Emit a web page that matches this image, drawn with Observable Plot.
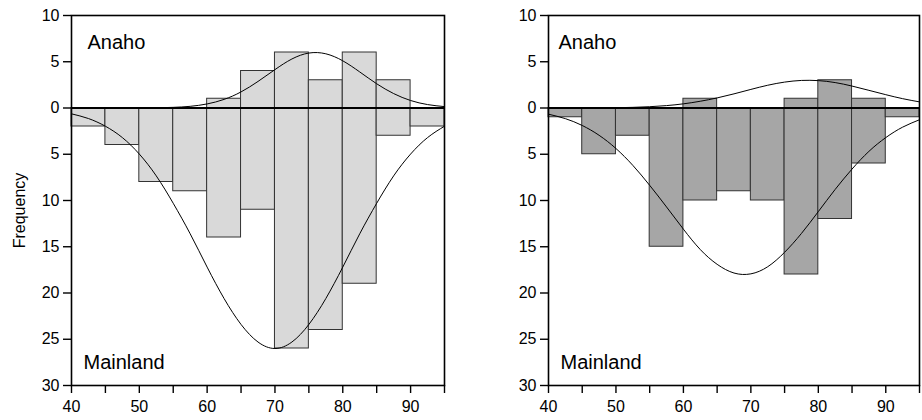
<!DOCTYPE html>
<html>
<head>
<meta charset="utf-8">
<script src="https://cdn.jsdelivr.net/npm/d3@7"></script>
<script src="https://cdn.jsdelivr.net/npm/@observablehq/plot@0.6"></script>
<style>
  body { margin: 0; background: #fff; }
  #chart { display: flex; width: 922px; height: 420px; }
  #chart svg { overflow: visible; flex: none; }
</style>
</head>
<body>
<div id="chart"></div>
<script>
// ---- data ----
const binStarts = [40, 45, 50, 55, 60, 65, 70, 75, 80, 85, 90];
const binWidth = 5;
const leftAnaho     = [0, 0, 0, 0, 1, 4, 6, 3, 6, 3, 0];
const leftMainland  = [2, 4, 8, 9, 14, 11, 26, 24, 19, 3, 2];
const rightAnaho    = [0, 0, 0, 0, 1, 0, 0, 1, 3, 1, 0];
const rightMainland = [1, 5, 3, 15, 10, 9, 10, 18, 12, 6, 1];

const curveX = [40, 42.5, 45, 47.5, 50, 52.5, 55, 57.5, 60, 62.5, 65, 67.5, 70, 72.5, 75, 77.5, 80, 82.5, 85, 87.5, 90, 92.5, 95];
const leftAnahoCurve     = [0, 0, 0, 0, 0.01, 0.02, 0.07, 0.18, 0.44, 0.93, 1.74, 2.87, 4.15, 5.3, 5.94, 5.86, 5.1, 3.9, 2.62, 1.56, 0.81, 0.37, 0.15];
const leftMainlandCurve  = [0.63, 1.14, 1.97, 3.2, 4.98, 7.34, 10.3, 13.6, 17.2, 20.6, 23.4, 25.3, 26, 25.3, 23.4, 20.6, 17.2, 13.6, 10.3, 7.34, 4.98, 3.2, 1.97];
const rightAnahoCurve    = [0, 0, 0.01, 0.02, 0.03, 0.07, 0.14, 0.26, 0.45, 0.73, 1.09, 1.53, 2.01, 2.46, 2.8, 2.98, 2.96, 2.75, 2.37, 1.91, 1.44, 1.01, 0.66];
const rightMainlandCurve = [0.67, 1.15, 1.89, 2.95, 4.38, 6.2, 8.36, 10.7, 13.1, 15.3, 16.9, 17.84, 17.93, 17.16, 15.6, 13.56, 11.2, 8.8, 6.6, 4.69, 3.2, 2.07, 1.27];

const xTicks = [40, 45, 50, 55, 60, 65, 70, 75, 80, 85, 90, 95];
const yTicks = [-10, -5, 0, 5, 10, 15, 20, 25, 30];
const groupLabels = ["Anaho", "Mainland"];
const yLabel = "Frequency";

// ---- build ----
function bars(counts, sign) {
  return binStarts
    .map((x, i) => ({x1: x, x2: x + binWidth, y: sign * counts[i]}))
    .filter(d => d.y !== 0);
}
function curve(values, sign) {
  return curveX.map((x, i) => ({x, y: sign * values[i]}));
}

const font = "'Liberation Sans', Arial, Helvetica, sans-serif";

function panel({anaho, mainland, anahoCurve, mainlandCurve, fill, marginLeft, marginRight, anahoDx, showYLabel}) {
  const marks = [
    Plot.rect(bars(mainland, 1), {x1: "x1", x2: "x2", y1: 0, y2: "y", fill, stroke: "#333", strokeWidth: 1}),
    Plot.rect(bars(anaho, -1), {x1: "x1", x2: "x2", y1: 0, y2: "y", fill, stroke: "#333", strokeWidth: 1}),
    Plot.line(curve(mainlandCurve, 1), {x: "x", y: "y", curve: "natural", stroke: "black", strokeWidth: 1}),
    Plot.line(curve(anahoCurve, -1), {x: "x", y: "y", curve: "natural", stroke: "black", strokeWidth: 1}),
    Plot.ruleY([0], {stroke: "black", strokeWidth: 2.2}),
    Plot.frame({stroke: "black", strokeWidth: 1.6}),
    Plot.axisX({ticks: xTicks, tickSize: 8, tickPadding: 7, tickFormat: d => d % 10 === 0 ? d : "", label: null, fontSize: 16, strokeWidth: 1.4}),
    Plot.axisY({ticks: yTicks, tickSize: 8, tickPadding: 4, tickFormat: d => Math.abs(d), label: null, fontSize: 16, strokeWidth: 1.4}),
    Plot.text([groupLabels[0]], {frameAnchor: "top-left", dx: anahoDx, dy: 19, fontSize: 20, fill: "black"}),
    Plot.text([groupLabels[1]], {frameAnchor: "bottom-left", dx: 12, dy: -17, fontSize: 20, fill: "black"})
  ];
  if (showYLabel) {
    marks.push(Plot.text([yLabel], {frameAnchor: "left", textAnchor: "middle", rotate: -90, dx: -52, dy: 10, fontSize: 16, fill: "black"}));
  }
  return Plot.plot({
    width: 461,
    height: 420,
    marginTop: 15,
    marginBottom: 35,
    marginLeft,
    marginRight,
    style: {fontFamily: font, fontSize: "16px", background: "white", color: "black"},
    x: {domain: [40, 95], label: null},
    y: {domain: [-10, 30], reverse: true, label: null},
    marks
  });
}

const chart = document.getElementById("chart");
chart.append(panel({
  anaho: leftAnaho, mainland: leftMainland,
  anahoCurve: leftAnahoCurve, mainlandCurve: leftMainlandCurve,
  fill: "#d9d9d9", marginLeft: 71, marginRight: 17, anahoDx: 16, showYLabel: true
}));
chart.append(panel({
  anaho: rightAnaho, mainland: rightMainland,
  anahoCurve: rightAnahoCurve, mainlandCurve: rightMainlandCurve,
  fill: "#a6a6a6", marginLeft: 87, marginRight: 3, anahoDx: 10, showYLabel: false
}));
</script>
</body>
</html>
